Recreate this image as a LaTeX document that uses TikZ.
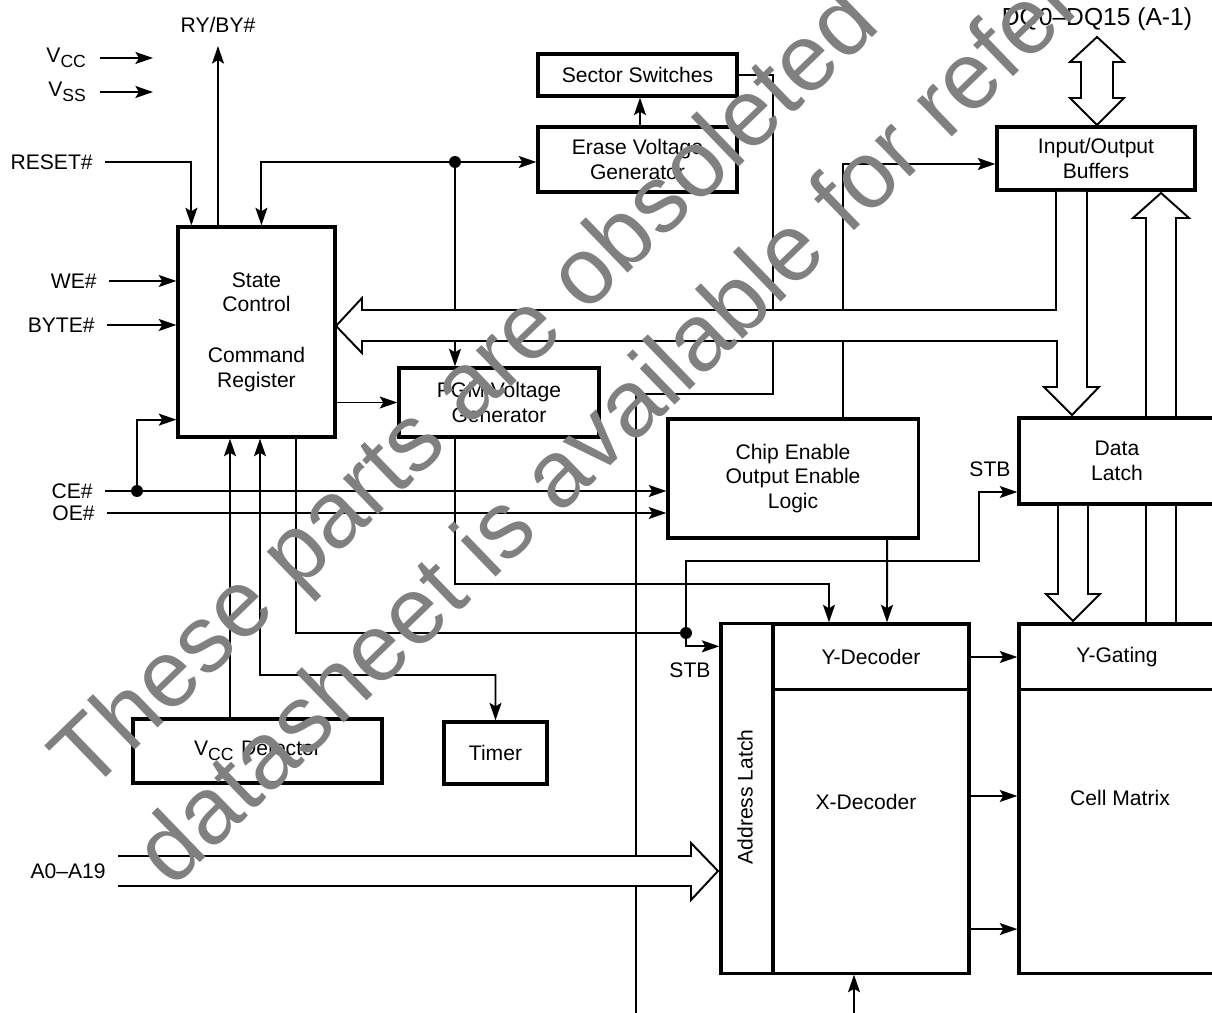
\documentclass[tikz,border=0pt]{standalone}
\usepackage{fontspec}
\setmainfont{Liberation Sans}
\usetikzlibrary{arrows.meta}
\usetikzlibrary{calc}

\begin{document}
\begin{tikzpicture}[x=0.01cm, y=-0.01cm, line width=0.55pt,
  font=\fontsize{6}{7}\selectfont,
  >={Stealth[length=5pt, width=3.4pt, inset=1pt]},
  blk/.style={draw, fill=white, line width=0.9pt, inner sep=0pt, align=center},
  lbl/.style={anchor=east, inner sep=0pt, outer xsep=3.5pt},
  dot/.style={circle, fill, inner sep=0pt, minimum size=3.4pt},
  bus/.style={fill=white, line width=0.55pt},
  wmark/.style={text=black!50, font=\fontsize{27}{30}\selectfont, inner sep=0pt, anchor=base west, rotate=44}]
\useasboundingbox (0,0) rectangle (1212,1013);

% blocks
\node[blk, minimum width=1.57cm, minimum height=2.10cm] (sc) at (256.5,332) {State\\Control\\[7.5pt]Command\\Register};
\node[blk, minimum width=1.99cm, minimum height=0.42cm] (ss) at (637.5,75) {Sector Switches};
\node[blk, minimum width=1.99cm, minimum height=0.65cm] (evg) at (637.5,159.5) {Erase Voltage\\Generator};
\node[blk, minimum width=2.00cm, minimum height=0.69cm] (pgm) at (499,402.5) {PGM Voltage\\Generator};
\node[blk, minimum width=1.98cm, minimum height=0.63cm] (iob) at (1096,158.5) {Input/Output\\Buffers};
\node[blk, minimum width=2.50cm, minimum height=1.19cm] (cel) at (793,478.5) {Chip Enable\\Output Enable\\Logic};
\node[blk, minimum width=1.96cm, minimum height=0.86cm] (dl) at (1117,461) {Data\\Latch};
\node[blk, minimum width=2.49cm, minimum height=0.64cm] (vcd) at (257.5,751) {V\textsubscript{CC} Detector};
\node[blk, minimum width=1.03cm, minimum height=0.62cm] (tmr) at (495.5,753) {Timer};
\node[blk, minimum width=0.52cm, minimum height=3.49cm] (al) at (747,798.5) {};
\node[blk, minimum width=1.96cm, minimum height=0.66cm] (yd) at (871,657) {Y-Decoder};
\node[blk, minimum width=1.96cm, minimum height=2.83cm] (xd) at (871,831.5) {};
\node[blk, minimum width=1.96cm, minimum height=0.66cm] (yg) at (1117,657) {Y-Gating};
\node[blk, minimum width=1.96cm, minimum height=2.83cm] (cm) at (1117,831.5) {};
\node[rotate=90] (altxt) at (745,797) {Address Latch};
\node (xdtxt) at (866,802) {X-Decoder};
\node (cmtxt) at (1120,798) {Cell Matrix};

% pins
\node[lbl] (vcc) at (100,58) {V\textsubscript{CC}};
\node[lbl] (vss) at (100,92) {V\textsubscript{SS}};
\node[lbl] (rst) at (105,162) {RESET\#};
\node[lbl] (we) at (109,281) {WE\#};
\node[lbl] (byte) at (107,325) {BYTE\#};
\node[lbl] (ce) at (105,491) {CE\#};
\node[lbl] (oe) at (107,513) {OE\#};
\node[lbl] (addr) at (118,871) {A0--A19};
\node (ryby) at (218,25) {RY/BY\#};
\node[font=\fontsize{7}{8}\selectfont] (dq) at (1097,19) {DQ0--DQ15 (A-1)};
\node (stb1) at (990,469) {STB};
\node (stb2) at (690,670) {STB};

\node[dot] (d1) at (455,162) {};
\node[dot] (d2) at (137,491) {};
\node[dot] (d3) at (686,633) {};

\coordinate (vccE) at (153,58);
\coordinate (vssE) at (153,92);
\coordinate (ryE) at (218,46);
\coordinate (j1) at (773,394);
\coordinate (j2) at (843,164);
\coordinate (j3) at (260,675);
\coordinate (j5) at (979,561);
\coordinate (j6) at (455,584);
\coordinate (b636) at (636,1013);
\coordinate (b854) at (854,1013);

% control lines
\draw[->] (vcc.east) -- (vccE);
\draw[->] (vss.east) -- (vssE);
\draw[->] (sc.north -| ryE) -- (ryE);
\draw[->] (rst.east) -| ([xshift=0.15cm]sc.north west);
\draw[->] (d1.center) -| ([xshift=0.85cm]sc.north west);
\draw[->] (d1.center) -- (d1.center -| evg.west);
\draw[->] (d1.center) -- (d1.center |- pgm.north);
\draw[->] ([xshift=0.025cm]evg.north) -- ([xshift=0.025cm]ss.south);
\draw (ss.east) -| (j1) -| (b636);
\draw[->] (cel.north -| j2) -- (j2) -- (j2 -| iob.west);
\draw[->] (sc.east |- pgm.west) -- (pgm.west);
\draw[->] (we.east) -- (we.east -| sc.west);
\draw[->] (byte.east) -- (byte.east -| sc.west);
\draw[->] (ce.east) -- (ce.east -| cel.west);
\draw[->] (d2.center) |- ([yshift=0.19cm]sc.south west);
\draw[->] (oe.east) -- (oe.east -| cel.west);
\draw[->] ([xshift=-0.275cm]vcd.north) -- ([xshift=-0.265cm]sc.south);
\draw[<->] ([xshift=0.035cm]sc.south) -- (j3) -| (tmr.north);
\draw ([xshift=0.395cm]sc.south) |- (d3.center);
\draw[->] (d3.center) |- ([yshift=-0.24cm]al.north west);
\draw[->] (d3.center) |- (j5) |- ([yshift=-0.31cm]dl.west);
\draw[->] (pgm.south -| j6) -- (j6) -| ([xshift=-0.42cm]yd.north);
\draw[->] ([xshift=0.94cm]cel.south) -- ([xshift=0.16cm]yd.north);
\draw[->] (yd.east) -- (yg.west);
\foreach \dy in {0.355,-0.975}
  \draw[->] ([yshift=\dy cm]xd.east) -- ([yshift=\dy cm]cm.west);
\draw[->] (b854) -- (b854 |- xd.south);

% buses
\filldraw[bus] (1056,192) -- (1056,310) -- (362,310) -- (362,298) -- (336,326) -- (362,353) -- (362,341)
  -- (1057,341) -- (1057,387) -- (1044,387) -- (1072,415) -- (1099,387) -- (1087,387) -- (1087,192);
\filldraw[bus] (1097,37) -- (1124,62) -- (1113,62) -- (1113,98) -- (1124,98) -- (1097,125)
  -- (1070,98) -- (1081,98) -- (1081,62) -- (1070,62) -- cycle;
\draw (1146,416) -- (1146,218) -- (1133,218) -- (1161,193) -- (1189,218) -- (1176,218) -- (1176,416);
\draw (1146,506) -- (1146,622) (1176,506) -- (1176,622);
\filldraw[bus] (1058,506) -- (1058,594) -- (1046,594) -- (1073,621) -- (1100,594) -- (1088,594) -- (1088,506);
\filldraw[bus] (118,856) -- (691,856) -- (691,843) -- (718,871) -- (691,900) -- (691,886) -- (118,886);

% watermark
\node[wmark] (wm1) at (88,795) {These parts are obsoleted};
\node[wmark] (wm2) at (172,890) {datasheet is available for reference};
\end{tikzpicture}
\end{document}
